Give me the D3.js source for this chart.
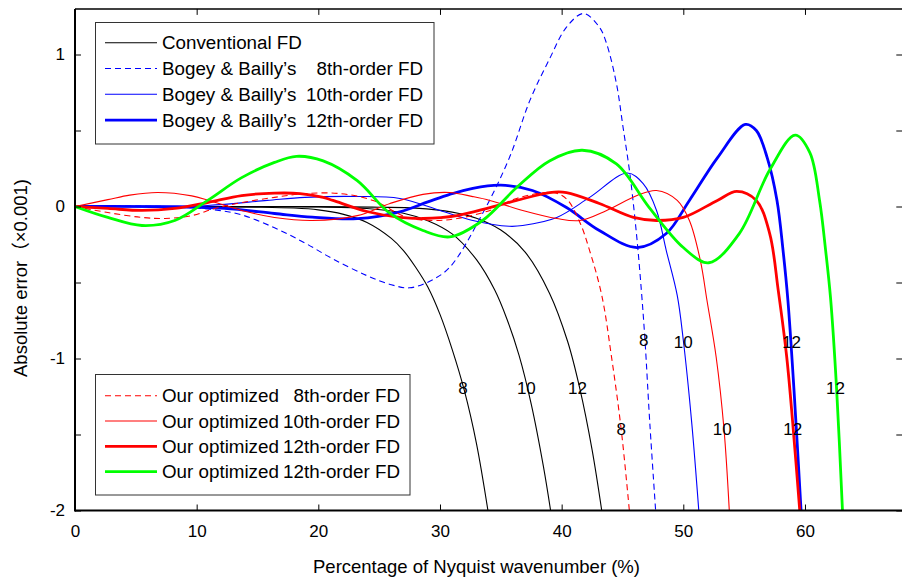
<!DOCTYPE html>
<html><head><meta charset="utf-8">
<script src="https://cdn.jsdelivr.net/npm/d3@7"></script>
<style>
body{margin:0;background:#fff}
svg{display:block;font-family:"Liberation Sans",Arial,"Noto Sans CJK SC",sans-serif}
</style>
</head><body>
<svg id="c" width="902" height="579"></svg>
<script>
// ---------- data (x: % of Nyquist wavenumber, y: absolute error ×0.001) ----------
const xTicks = [0, 10, 20, 30, 40, 50, 60];
const yTicks = [-2, -1.5, -1, -0.5, 0, 0.5, 1];
const yTickLabels = ["-2", "", "-1", "", "0", "", "1"];

const conv8 = [[0,0],[10,-0.001],[15,-0.004],[18,-0.01],[20,-0.022],[22,-0.05],[24,-0.105],[26,-0.21],[27,-0.29],[28,-0.4],[29,-0.53],[30,-0.71],[31,-0.94],[32,-1.21],[33,-1.56],[34,-2.03]];
const conv10 = [[0,0],[15,-0.001],[20,-0.003],[24,-0.013],[27,-0.044],[29,-0.093],[31,-0.18],[33,-0.35],[34.5,-0.55],[35.5,-0.74],[36.5,-0.98],[37.5,-1.3],[38.5,-1.71],[39.15,-2.03]];
const conv12 = [[0,0],[20,-0.001],[25,-0.005],[28,-0.011],[31,-0.037],[33,-0.077],[35,-0.155],[37,-0.3],[39,-0.57],[40.5,-0.89],[41.5,-1.2],[42.5,-1.6],[43.35,-2.03]];

const bb8 = [[0,0],[6,0.002],[9,-0.005],[11.3,-0.02],[13.7,-0.055],[16.4,-0.14],[18.9,-0.24],[21.2,-0.345],[24,-0.455],[26,-0.515],[27.5,-0.535],[29.2,-0.49],[30.8,-0.4],[33.5,-0.046],[35.7,0.32],[37.4,0.7],[39,0.97],[40.4,1.18],[41.8,1.27],[43.1,1.18],[43.7,1.07],[44.5,0.81],[45.05,0.52],[45.6,0.22],[46.15,-0.18],[46.55,-0.55],[46.85,-0.88],[47.25,-1.43],[47.75,-2.03]];
const bb10 = [[0,0],[5,0.002],[10.9,0.007],[15.8,0.04],[18.9,0.06],[23.2,0.066],[26.7,0.053],[30,-0.026],[32.7,-0.092],[35.7,-0.13],[36.8,-0.125],[39.6,-0.072],[42.3,0.06],[45.4,0.22],[46.7,0.15],[47.8,-0.026],[48.6,-0.29],[49.5,-0.585],[50,-0.88],[50.7,-1.43],[51.3,-2.03]];
const bb12 = [[0,0],[8,-0.002],[12.3,-0.013],[16.4,-0.046],[19.5,-0.07],[23.2,-0.08],[26.7,-0.035],[29,0.03],[30.8,0.08],[32.7,0.12],[35,0.14],[37.6,0.105],[40.4,-0.007],[43.1,-0.158],[46.2,-0.27],[48.6,-0.178],[50.5,0.04],[52.8,0.32],[55.1,0.54],[56,0.5],[56.9,0.32],[57.7,0.04],[58.2,-0.29],[58.6,-0.62],[59.1,-1.21],[59.7,-2.03]];

const our8 = [[0,0],[2.7,-0.04],[5.5,-0.072],[7.4,-0.079],[9.6,-0.06],[11.5,-0.013],[13.7,0.026],[16.4,0.06],[18.9,0.085],[21.8,0.085],[24.5,0.04],[27.3,-0.072],[29.4,-0.092],[31.4,-0.079],[34.1,-0.026],[36.3,0.053],[39.3,0.092],[40.4,0.05],[41.5,-0.105],[42.3,-0.29],[43.3,-0.585],[44.1,-0.99],[44.9,-1.47],[45.6,-2.03]];
const our10 = [[0,0],[2.7,0.045],[4.5,0.075],[6.8,0.092],[9.6,0.07],[11,0.04],[13.7,-0.026],[16.4,-0.072],[19.5,-0.092],[23.2,-0.06],[25.9,0.02],[28.6,0.08],[30.8,0.092],[32.7,0.065],[34.1,0.04],[36.8,-0.026],[39.6,-0.079],[41.5,-0.092],[43.7,-0.026],[46.2,0.072],[47.8,0.105],[49.5,0.04],[50.5,-0.092],[51.4,-0.355],[51.95,-0.62],[52.7,-0.99],[53.35,-1.47],[53.8,-2.03]];
const our12 = [[0,0],[2.7,-0.013],[5.5,-0.026],[8.2,-0.013],[10.9,0.026],[13.7,0.072],[16.4,0.088],[18.5,0.085],[20.4,0.06],[21.2,0.04],[24,-0.033],[26.7,-0.072],[28.6,-0.079],[31.4,-0.06],[34.1,-0.007],[36.3,0.04],[39,0.092],[40.4,0.092],[43.1,0.02],[45.9,-0.072],[47.8,-0.092],[50,-0.072],[52.8,0.04],[54.4,0.1],[56,0.04],[57.1,-0.178],[57.8,-0.55],[58.5,-0.99],[59,-1.43],[59.6,-2.03]];
const our12b = [[0,0],[2.7,-0.072],[5.5,-0.125],[8.2,-0.092],[10.9,0.04],[13.7,0.19],[16.4,0.29],[18.2,0.33],[20.4,0.3],[23.2,0.17],[25.9,-0.046],[28.6,-0.158],[30.8,-0.2],[33.5,-0.092],[36.3,0.125],[39,0.3],[41.7,0.37],[44.5,0.28],[47.2,-0.007],[50,-0.27],[52.1,-0.37],[54.6,-0.178],[57.1,0.24],[59.2,0.47],[60.4,0.355],[61.2,0.04],[61.7,-0.29],[62.1,-0.6],[62.6,-1.2],[63.1,-2.03]];

const legend1Prefix = ["Conventional FD", "Bogey & Bailly\u2019s", "Bogey & Bailly\u2019s", "Bogey & Bailly\u2019s"];
const legend1Suffix = ["", "8th-order FD", "10th-order FD", "12th-order FD"];
const legend2Prefix = ["Our optimized", "Our optimized", "Our optimized", "Our optimized"];
const legend2Suffix = ["8th-order FD", "10th-order FD", "12th-order FD", "12th-order FD"];

const curveLabels = [
  {t:"8", x:31.9, y:-1.19}, {t:"10", x:37.1, y:-1.19}, {t:"12", x:41.3, y:-1.19},
  {t:"8", x:44.9, y:-1.46}, {t:"8", x:46.75, y:-0.88}, {t:"10", x:50.0, y:-0.89},
  {t:"12", x:58.9, y:-0.89}, {t:"12", x:62.5, y:-1.19}, {t:"10", x:53.2, y:-1.46},
  {t:"12", x:59.0, y:-1.46}
];

const xLabel = "Percentage of Nyquist wavenumber (%)";
const yLabel = "Absolute error\uFF08\u00D70.001)";

// ---------- styles ----------
const BLUE = "#0000ff", RED = "#ff0000", GREEN = "#00ff00", BLACK = "#000000";
const THIN = 1.1, THICK = 2.8, DASH = "6,4";
const series = [
  {data: conv8, color: BLACK, w: THIN},
  {data: conv10, color: BLACK, w: THIN},
  {data: conv12, color: BLACK, w: THIN},
  {data: bb8, color: BLUE, w: THIN, dash: DASH},
  {data: bb10, color: BLUE, w: THIN},
  {data: bb12, color: BLUE, w: THICK},
  {data: our8, color: RED, w: THIN, dash: DASH},
  {data: our10, color: RED, w: THIN},
  {data: our12, color: RED, w: THICK},
  {data: our12b, color: GREEN, w: THICK}
];
const legend1Style = [{color: BLACK, w: THIN}, {color: BLUE, w: THIN, dash: DASH}, {color: BLUE, w: THIN}, {color: BLUE, w: THICK}];
const legend2Style = [{color: RED, w: THIN, dash: DASH}, {color: RED, w: THIN}, {color: RED, w: THICK}, {color: GREEN, w: THICK}];

// ---------- layout ----------
const W = 902, H = 579;
const M = {l: 75, t: 8.9, r: 902.3, b: 510.5};
const x = d3.scaleLinear().domain([0, 68]).range([M.l, M.r]);
const y = d3.scaleLinear().domain([-2, 1.3]).range([M.b, M.t]);

const svg = d3.select("#c");
svg.append("rect").attr("width", W).attr("height", H).attr("fill", "#fff");
svg.append("defs").append("clipPath").attr("id", "clip")
  .append("rect").attr("x", M.l).attr("y", M.t).attr("width", M.r - M.l).attr("height", M.b - M.t);

// curves
const line = d3.line().x(d => x(d[0])).y(d => y(d[1])).curve(d3.curveCatmullRom.alpha(0.5));
const gC = svg.append("g").attr("clip-path", "url(#clip)");
series.forEach(s => {
  gC.append("path").attr("d", line(s.data)).attr("fill", "none")
    .attr("stroke", s.color).attr("stroke-width", s.w)
    .attr("stroke-dasharray", s.dash || null).attr("stroke-linejoin", "round");
});

// curve labels
svg.append("g").selectAll("text").data(curveLabels).join("text")
  .attr("x", d => x(d.x)).attr("y", d => y(d.y)).attr("dy", "0.36em")
  .attr("text-anchor", "middle").attr("font-size", 17).attr("fill", "#000")
  .text(d => d.t);

// axes
function styleAxis(g) {
  g.select(".domain").remove();
  g.selectAll(".tick line").attr("stroke", "#000").attr("stroke-width", 1);
  g.selectAll(".tick text").attr("fill", "#000").attr("font-size", 17);
  g.attr("font-family", null).attr("font-size", null);
}
const gB = svg.append("g").attr("transform", `translate(0,${M.b})`)
  .call(d3.axisBottom(x).tickValues(xTicks).tickFormat(d3.format("d")).tickSizeInner(-6).tickSizeOuter(0).tickPadding(14));
styleAxis(gB);
gB.selectAll(".tick text").attr("y", 26.5).attr("dy", 0);

const gT = svg.append("g").attr("transform", `translate(0,${M.t})`)
  .call(d3.axisTop(x).tickValues(xTicks).tickFormat("").tickSizeInner(-6).tickSizeOuter(0));
styleAxis(gT);

const gL = svg.append("g").attr("transform", `translate(${M.l},0)`)
  .call(d3.axisLeft(y).tickValues(yTicks).tickFormat((d, i) => yTickLabels[i]).tickSizeInner(-6).tickSizeOuter(0).tickPadding(10));
styleAxis(gL);

const gR = svg.append("g").attr("transform", `translate(${M.r},0)`)
  .call(d3.axisRight(y).tickValues(yTicks).tickFormat("").tickSizeInner(-6).tickSizeOuter(0));
styleAxis(gR);

// frame
svg.append("line").attr("x1", M.l).attr("x2", W).attr("y1", M.b).attr("y2", M.b).attr("stroke", "#000").attr("stroke-width", 2);
svg.append("line").attr("x1", M.l).attr("x2", M.l).attr("y1", M.t).attr("y2", M.b + 1).attr("stroke", "#000").attr("stroke-width", 2);
svg.append("line").attr("x1", M.l).attr("x2", W).attr("y1", M.t).attr("y2", M.t).attr("stroke", "#000").attr("stroke-width", 1.5);

// axis titles
svg.append("text").attr("x", 476.5).attr("y", 572.5).attr("text-anchor", "middle")
  .attr("font-size", 18.5).attr("fill", "#000").text(xLabel);
svg.append("text").attr("transform", "translate(27,278) rotate(-90)").attr("text-anchor", "middle")
  .attr("font-size", 18.5).attr("fill", "#000").text(yLabel);

// legends
function legend(box, rowY, rowStep, prefix, suffix, styles, suffixEnd) {
  const g = svg.append("g");
  g.append("rect").attr("x", box.x).attr("y", box.y).attr("width", box.w).attr("height", box.h)
    .attr("fill", "#fff").attr("stroke", "#333").attr("stroke-width", 1);
  styles.forEach((s, i) => {
    const cy = rowY + i * rowStep;
    g.append("line").attr("x1", 105).attr("x2", 157).attr("y1", cy).attr("y2", cy)
      .attr("stroke", s.color).attr("stroke-width", s.w).attr("stroke-dasharray", s.dash || null);
    g.append("text").attr("x", 162).attr("y", cy + 6.5).attr("font-size", 18.8).attr("fill", "#000").text(prefix[i]);
    if (suffix[i]) g.append("text").attr("x", suffixEnd).attr("y", cy + 6.5).attr("text-anchor", "end")
      .attr("font-size", 18.8).attr("fill", "#000").text(suffix[i]);
  });
}
legend({x: 95.5, y: 22.5, w: 338.5, h: 121.5}, 42.7, 25.8, legend1Prefix, legend1Suffix, legend1Style, 423);
legend({x: 95.5, y: 374.5, w: 314.5, h: 120.5}, 395.7, 25.3, legend2Prefix, legend2Suffix, legend2Style, 400);
</script>
</body></html>
